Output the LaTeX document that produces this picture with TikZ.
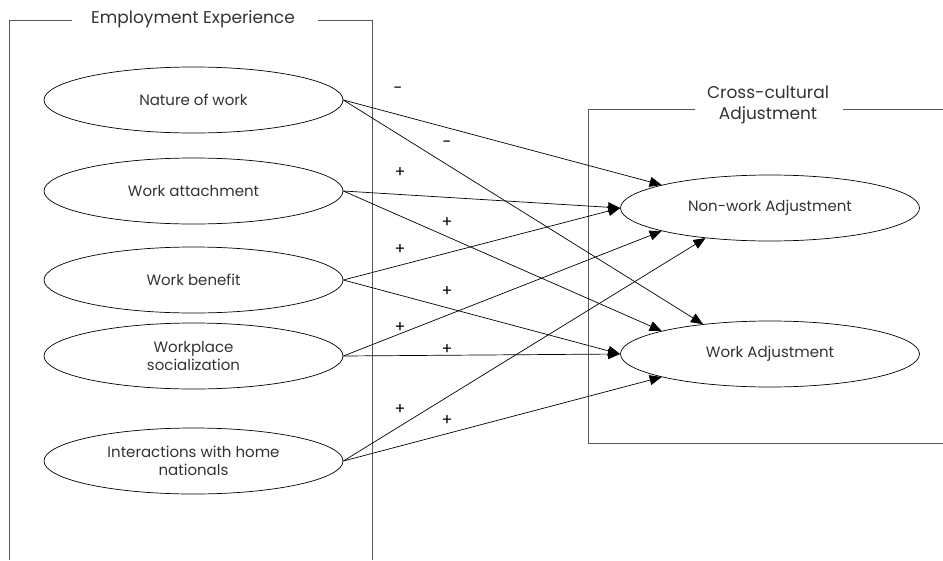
\documentclass[tikz,border=0pt]{standalone}
\usepackage{fontspec}
\setmainfont{Poppins}
\usepackage{tikz}
\usetikzlibrary{arrows.meta,positioning,shapes.geometric}

\begin{document}
\begin{tikzpicture}[x=1pt, y=-1pt,
  font=\fontsize{15}{17.5}\selectfont, >={Triangle[length=12pt, width=10pt]},
  factor/.style={ellipse, draw, line width=0.7pt, minimum width=299pt, minimum height=66pt, inner sep=0pt, align=center, text=black!80},
  frame/.style={draw=black!65, line width=0.8pt},
  title/.style={align=center, text=black!80, inner sep=2pt, font=\fontsize{17}{21.5}\selectfont},
  sign/.style={font=\fontsize{16}{17}\selectfont, inner sep=0pt},
  path/.style={->, line width=0.7pt}]
\useasboundingbox (0,0) rectangle (943,560);
% employment experience block
\node[title] (exptitle) at (193,19) {Employment Experience};
\draw[frame] (72,20) -- (9,20) -- (9,560);
\draw[frame] (318,20) -- (372,20) -- (372,560);
\node[factor] (nature) at (193.5,100) {Nature of work};
\node[factor] (attach) at (193.5,191) {Work attachment};
\node[factor] (benefit) at (193.5,280) {Work benefit};
\node[factor] (social) at (193.5,356) {Workplace\\socialization};
\node[factor] (interact) at (193.5,461) {Interactions with home\\nationals};
% cross-cultural adjustment block
\node[title] (adjtitle) at (768,105) {Cross-cultural\\Adjustment};
\draw[frame] (695,109) -- (588,109) -- (588,443) -- (943,443);
\draw[frame] (843,109) -- (943,109);
\node[factor] (nonwork) at (770,208) {Non-work Adjustment};
\node[factor] (workadj) at (770,354) {Work Adjustment};
% paths
\draw[path] (nature.east) -- (nonwork.168);
\draw[path] (nature.east) -- (workadj.156);
\draw[path] (attach.east) -- (nonwork.west);
\draw[path] (attach.east) -- (workadj.168);
\draw[path] (benefit.east) -- (nonwork.west);
\draw[path] (benefit.east) -- (workadj.west);
\draw[path] (social.east) -- (nonwork.192);
\draw[path] (social.east) -- (workadj.west);
\draw[path] (interact.east) -- (nonwork.205);
\draw[path] (interact.east) -- (workadj.192);
% signs
\node[sign] (s1) at (398,90) {-};
\node[sign] (s2) at (447,144) {-};
\node[sign] (s3) at (400,173) {+};
\node[sign] (s4) at (447,223) {+};
\node[sign] (s5) at (400,250) {+};
\node[sign] (s6) at (447,292) {+};
\node[sign] (s7) at (400,328) {+};
\node[sign] (s8) at (447,350) {+};
\node[sign] (s9) at (400,410) {+};
\node[sign] (s10) at (447,421) {+};
\end{tikzpicture}
\end{document}
